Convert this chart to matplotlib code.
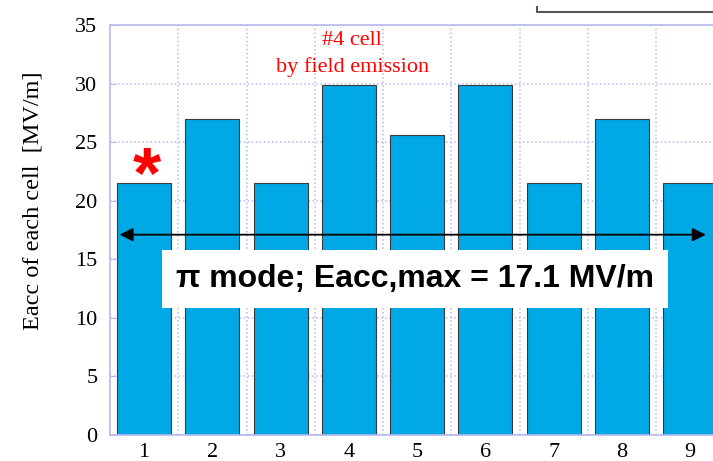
import matplotlib
matplotlib.use("Agg")
import matplotlib.pyplot as plt

cells = [1, 2, 3, 4, 5, 6, 7, 8, 9]
eacc = [21.5, 27.0, 21.5, 29.9, 25.6, 29.9, 21.5, 27.0, 21.5]
eacc_max = 17.1

serif = ["Liberation Serif", "DejaVu Serif"]
sans = ["Liberation Sans", "DejaVu Sans"]
grid_c = "#b8b8f0"

fig = plt.figure(figsize=(7.13, 4.61), dpi=100)
ax = fig.add_axes([0.1543, 0.0564, 0.8615, 0.8894])

ax.bar(cells, eacc, width=0.79, color="#00a8e6", edgecolor="#3a3a3a",
       linewidth=0.8, zorder=2)

ax.set_xlim(0.5, 9.5)
ax.set_ylim(0, 35)
ax.set_xticks(cells)
ax.set_yticks(range(0, 36, 5))
ax.set_xticks([c + 0.5 for c in cells[:-1]], minor=True)
ax.grid(False)
ax.yaxis.grid(True, color=grid_c, linestyle=":", linewidth=1.1, zorder=0)
ax.xaxis.grid(True, which="minor", color=grid_c, linestyle=":", linewidth=1.1, zorder=0)
ax.set_axisbelow(True)
for s in ax.spines.values():
    s.set_color(grid_c)
    s.set_linewidth(1.2)
ax.tick_params(axis="both", which="both", direction="in", color=grid_c, length=4)
ax.tick_params(axis="x", which="minor", length=0)
for lab in ax.get_xticklabels() + ax.get_yticklabels():
    lab.set_family(serif)
    lab.set_fontsize(16)
ax.tick_params(axis="y", pad=9)
ax.tick_params(axis="x", pad=6)

ax.set_ylabel("Eacc of each cell  [MV/m]", family=serif, fontsize=17.5)
ax.yaxis.set_label_coords(-0.108, 0.571)

# double arrow at Eacc,max
ax.annotate("", xy=(0.64, eacc_max), xytext=(9.23, eacc_max),
            arrowprops=dict(arrowstyle="<|-|>", color="black", lw=1.3,
                            mutation_scale=20, shrinkA=0, shrinkB=0), zorder=4)
ax.text(4.97, 13.3, "π mode; Eacc,max = 17.1 MV/m", family=sans, fontweight="bold",
        fontsize=23, ha="center", va="center", zorder=5,
        bbox=dict(facecolor="white", edgecolor="none", pad=10))

ax.text(1.04, 21.9, "*", color="red", fontsize=52, fontweight="bold", family=sans,
        ha="center", va="center", zorder=5)
ax.text(4.05, 32.5, "#4 cell\nby field emission", color="red", family=serif,
        fontsize=16, ha="center", va="center", linespacing=1.5, zorder=5)

# cropped frame in top right
fig.add_artist(plt.Line2D([0.753, 0.753, 1.0], [0.985, 0.974, 0.974],
                          color="#555555", lw=1.5, transform=fig.transFigure))

fig.savefig("out.png", dpi=100)
